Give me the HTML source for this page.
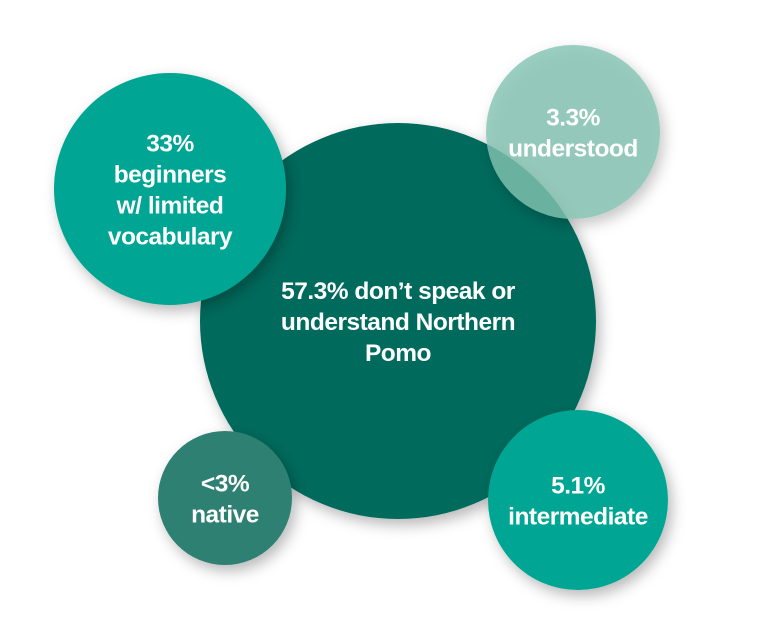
<!DOCTYPE html>
<html><head><meta charset="utf-8"><style>
html,body{margin:0;padding:0;background:#fff;width:759px;height:624px;overflow:hidden}
svg text{font-family:"Liberation Sans",sans-serif;font-weight:bold;fill:#fff;font-size:24.5px;letter-spacing:-0.5px}
</style></head><body>
<svg id="chart" width="759" height="624" viewBox="0 0 759 624">
<defs><filter id="sh" x="-30%" y="-30%" width="160%" height="160%"><feDropShadow dx="4" dy="6" stdDeviation="7" flood-color="#000" flood-opacity="0.28"/></filter></defs>
</svg>
<script>
const categories=["main","beginners","native","intermediate","understood"];
const values=[57.3,33,3,5.1,3.3];
const labels=[["57.3% don’t speak or","understand Northern","Pomo"],["33%","beginners","w/ limited","vocabulary"],["<3%","native"],["5.1%","intermediate"],["3.3%","understood"]];
const cx=[398,170,225,578,573];
const cy=[321,189,498,500,132];
const rr=[198,116,67,90,87];
const fills=["#006b5c","#00a594","#2f8072","#00a693","rgba(130,195,177,0.8)"];
const svg=document.getElementById('chart');
const NS='http://www.w3.org/2000/svg';
categories.forEach((c,i)=>{
  const g=document.createElementNS(NS,'g');
  
  
  const ci=document.createElementNS(NS,'circle');
  
  
  ci.setAttribute('cx',cx[i]);ci.setAttribute('cy',cy[i]);ci.setAttribute('r',rr[i]);
  ci.setAttribute('fill',fills[i]);ci.setAttribute('filter','url(#sh)');
  g.appendChild(ci);
  const t=document.createElementNS(NS,'text');
  
  
  t.setAttribute('text-anchor','middle');
  const n=labels[i].length, lh=31;
  labels[i].forEach((l,j)=>{
    const s=document.createElementNS(NS,'tspan');
    s.setAttribute('x',cx[i]);
    s.setAttribute('y',cy[i]-(n-1)*lh/2+j*lh+9);
    s.textContent=l;t.appendChild(s);
  });
  g.appendChild(t);
  svg.appendChild(g);
});
</script>
</body></html>
